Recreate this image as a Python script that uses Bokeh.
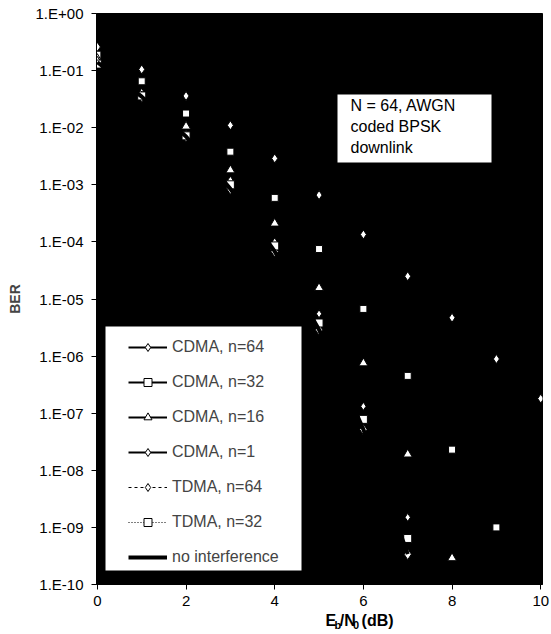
from bokeh.plotting import figure
from bokeh.layouts import column
from bokeh.models import (FixedTicker, CustomJSTickFormatter, Legend, LegendItem,
                          BoxAnnotation, Label)
from bokeh.embed import file_html
from bokeh.resources import INLINE

# ---------------- data ----------------
ebn0 = [0, 1, 2, 3, 4, 5, 6, 7, 8, 9, 10]

cdma_64 = [0.26, 0.105, 0.036, 0.011, 0.0029, 6.6e-4, 1.35e-4, 2.5e-5, 4.7e-6, 8.9e-7, 1.8e-7]
cdma_32 = [0.19, 0.065, 0.0177, 0.0038, 5.9e-4, 7.5e-5, 6.7e-6, 4.5e-7, 2.3e-8, 1.0e-9]
cdma_16 = [0.16, 0.040, 0.0105, 0.0018, 2.1e-4, 1.56e-5, 7.5e-7, 1.9e-8, 2.9e-10]
cdma_1 = [0.14, 0.035, 0.0070, 8.5e-4, 6.8e-5, 2.9e-6, 5.2e-8, 3.4e-10]
tdma_64 = [0.15, 0.037, 0.0076, 0.0012, 1.0e-4, 5.5e-6, 1.32e-7, 1.5e-9]
tdma_32 = [0.13, 0.036, 0.0072, 0.0010, 8.5e-5, 3.8e-6, 7.8e-8, 6.4e-10]
no_interf = [0.14, 0.035, 0.0070, 8.5e-4, 6.8e-5, 2.9e-6, 5.2e-8, 3.4e-10]

series_names = ["CDMA, n=64", "CDMA, n=32", "CDMA, n=16", "CDMA, n=1",
                "TDMA, n=64", "TDMA, n=32", "no interference"]

x_ticks = [0, 2, 4, 6, 8, 10]
y_ticks = [1e-10, 1e-9, 1e-8, 1e-7, 1e-6, 1e-5, 1e-4, 1e-3, 1e-2, 1e-1, 1e0]
y_tick_labels = ["1.E-10", "1.E-09", "1.E-08", "1.E-07", "1.E-06", "1.E-05",
                 "1.E-04", "1.E-03", "1.E-02", "1.E-01", "1.E+00"]

note_lines = ["N = 64, AWGN", "coded BPSK", "downlink"]

FONT = "Liberation Sans"

# ---------------- figure ----------------
p = figure(frame_width=446, frame_height=571, x_range=(-0.02, 10.04), y_range=(1e-10, 1),
           y_axis_type="log", output_backend="svg", toolbar_location=None,
           background_fill_color="black", border_fill_color="white",
           outline_line_color="black",
           min_border_left=96, min_border_right=9, min_border_top=13, min_border_bottom=26)
p.grid.visible = False

styles = [
    (cdma_64, "diamond", 9, 2, "solid"),
    (cdma_32, "square", 7, 2, "solid"),
    (cdma_16, "triangle", 9, 2, "solid"),
    (cdma_1, "diamond", 11, 2, "solid"),
    (tdma_64, "diamond", 8, 1, "3 3"),
    (tdma_32, "square", 8, 1, "1 2"),
]

items = []
for (vals, marker, size, lw, dash), name in zip(styles, series_names[:6]):
    xs = ebn0[:len(vals)]
    rl = p.line(xs, vals, line_color="black", line_width=lw, line_dash=dash)
    rs = p.scatter(xs, vals, marker=marker, size=size, fill_color="white",
                   line_color="black", line_width=1)
    items.append(LegendItem(label=name, renderers=[rl, rs]))

rn = p.line(ebn0[:len(no_interf)], no_interf, line_color="black", line_width=4)
items.append(LegendItem(label=series_names[6], renderers=[rn]))

# ---------------- axes ----------------
for ax in (p.xaxis[0], p.yaxis[0]):
    ax.major_label_text_font = FONT
    ax.major_label_text_font_size = "15px"
    ax.major_label_text_color = "black"
    ax.major_tick_in = 0
    ax.major_tick_out = 5
    ax.minor_tick_in = 0
    ax.minor_tick_out = 0
    ax.axis_line_color = "black"
    ax.major_tick_line_color = "black"

p.xaxis.ticker = FixedTicker(ticks=x_ticks, minor_ticks=[])
p.xaxis.major_label_standoff = 6
p.xaxis.axis_label = None

p.yaxis.ticker = FixedTicker(ticks=y_ticks, minor_ticks=[])
p.yaxis.formatter = CustomJSTickFormatter(args=dict(tks=y_ticks, labels=y_tick_labels), code="""
    let best = 0, bd = 1e9;
    for (let i = 0; i < tks.length; i++) {
        const d = Math.abs(Math.log10(tks[i]) - Math.log10(tick));
        if (d < bd) { bd = d; best = i; }
    }
    return labels[best];
""")
p.yaxis.major_label_standoff = 8
p.yaxis.axis_label = "BER"
p.yaxis.axis_label_text_font = FONT
p.yaxis.axis_label_text_font_style = "bold"
p.yaxis.axis_label_text_font_size = "14px"
p.yaxis.axis_label_standoff = 10

# ---------------- note box ----------------
p.add_layout(BoxAnnotation(left=241, right=395, bottom=422, top=490,
                           left_units="screen", right_units="screen",
                           top_units="screen", bottom_units="screen",
                           fill_color="white", fill_alpha=1, line_color=None))
for i, t in enumerate(note_lines):
    p.add_layout(Label(x=254, y=479 - 21 * i, x_units="screen", y_units="screen",
                       text=t, text_font=FONT, text_font_size="16px",
                       text_color="black", text_baseline="middle", text_align="left"))

# ---------------- legend ----------------
p.add_layout(BoxAnnotation(left=9, right=205, bottom=14, top=258,
                           left_units="screen", right_units="screen",
                           top_units="screen", bottom_units="screen",
                           fill_color="white", fill_alpha=1, line_color=None))
legend = Legend(items=items, location=(32, 17), background_fill_alpha=0,
                border_line_color=None, padding=0, margin=0, spacing=15,
                label_height=20, glyph_height=20, glyph_width=39, label_standoff=5,
                label_text_font=FONT, label_text_font_size="16px")
p.add_layout(legend, "center")

# ---------------- x axis label with subscripts (separate strip below) ----------------
p2 = figure(width=551, height=24, x_range=(0, 551), y_range=(0, 24),
            x_axis_type=None, y_axis_type=None, output_backend="svg",
            toolbar_location=None, outline_line_color=None, min_border=0,
            background_fill_color="white", border_fill_color="white")
p2.grid.visible = False

xl_parts = [("E", 0, "16px", 0), ("b", 10.9, "11px", -4), ("/N", 17.6, "16px", 0),
            ("0", 33.8, "11px", -4), ("(dB)", 44.5, "16px", 0)]
for txt, dx, fs, dy in xl_parts:
    p2.add_layout(Label(x=283 + dx, y=14 + dy, text=txt, text_font=FONT,
                        text_font_size=fs, text_font_style="bold", text_color="black",
                        text_baseline="middle", text_align="left"))

layout = column(p, p2, spacing=0)
open("out.html", "w").write(file_html(layout, INLINE))
